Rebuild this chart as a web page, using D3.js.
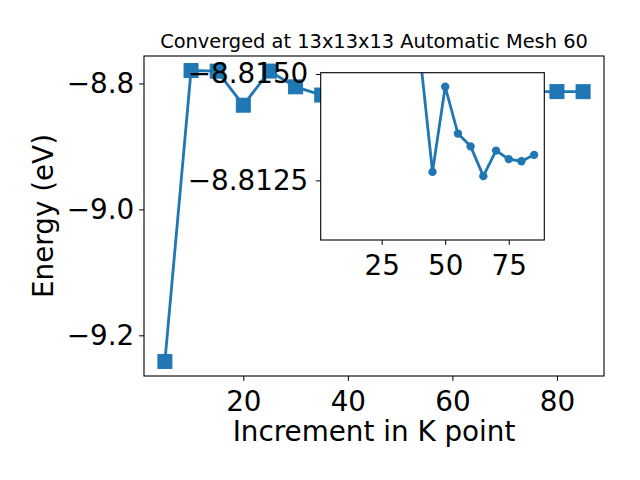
<!DOCTYPE html>
<html>
<head>
<meta charset="utf-8">
<script type="text/javascript" src="https://d3js.org/d3.v7.min.js"></script>
<style>
  body { margin: 0; background: #fff; }
  svg text { font-family: "DejaVu Sans", sans-serif; fill: #000; }
</style>
</head>
<body>
<div id="kconv"></div>
<script type="text/javascript">
  // k-point increment vs total energy
  const kPoints = [5, 10, 15, 20, 25, 30, 35, 40, 45, 50, 55, 60, 65, 70, 75, 80, 85];
  const energies = [-9.2415, -8.7795, -8.7805, -8.8345, -8.7803, -8.8054, -8.8184, -8.8155,
                    -8.8127, -8.8147, -8.8136, -8.8133, -8.8126, -8.8132, -8.8130, -8.81295, -8.8131];
  const xTicks = [20, 40, 60, 80];
  const yTicks = [-8.8, -9.0, -9.2];
  // inset: zoom on the converged part, from k = 40 on
  const insetFrom = 40;
  const insetXTicks = [25, 50, 75];
  const insetYTicks = [-8.8150, -8.8125];
  const insetYLimits = [-8.81503, -8.8111];   // inverted in the inset (smallest at top)
  const titleText = "Converged at 13x13x13 Automatic Mesh 60";

  function gen_kconv(){
    const w = 640, h = 480;
    const color = "#1f77b4";
    const fs = 27.8;
    const minus = s => s.replace("-", "\u2212");

    const svg = d3.select("#kconv")
      .append("svg")
        .attr("width", w)
        .attr("height", h)

    const pts = kPoints.map((k, i) => ({k: k, e: energies[i]}));
    const insetPts = pts.filter(d => d.k >= insetFrom);

    // ---- main axes ----
    const m = {left: 144, right: 604, top: 56, bottom: 376};
    const xPad = (d3.max(kPoints) - d3.min(kPoints)) * 0.05;
    const x = d3.scaleLinear()
      .domain([d3.min(kPoints) - xPad, d3.max(kPoints) + xPad])
      .range([m.left, m.right]);
    const ePad = (d3.max(energies) - d3.min(energies)) * 0.05;
    const y = d3.scaleLinear()
      .domain([d3.min(energies) - ePad, d3.max(energies) + ePad])
      .range([m.bottom, m.top]);

    const main = svg.append("g");

    main.append("g")
        .attr("transform", `translate(0,${m.bottom})`)
        .call(d3.axisBottom(x).tickValues(xTicks).tickSize(4.9).tickPadding(10.6).tickSizeOuter(0))
        .call(g => g.select(".domain").remove())
        .call(g => g.selectAll("text").attr("font-size", fs + "px").attr("font-family", "DejaVu Sans"));

    main.append("g")
        .attr("transform", `translate(${m.left},0)`)
        .call(d3.axisLeft(y).tickValues(yTicks).tickSize(4.9).tickPadding(4.9).tickSizeOuter(0)
          .tickFormat(d => minus(d3.format(".1f")(d))))
        .call(g => g.select(".domain").remove())
        .call(g => g.selectAll("text").attr("font-size", fs + "px").attr("font-family", "DejaVu Sans"));

    const line = d3.line().x(d => x(d.k)).y(d => y(d.e));

    main.append("path")
      .datum(pts)
      .attr("fill", "none")
      .attr("stroke", color)
      .attr("stroke-width", 2.8)
      .attr("d", line);

    main.selectAll("rect.mk")
      .data(pts)
      .join("rect")
        .attr("class", "mk")
        .attr("x", d => x(d.k) - 7)
        .attr("y", d => y(d.e) - 7)
        .attr("width", 14)
        .attr("height", 14)
        .attr("fill", color)
        .attr("stroke", color)
        .attr("stroke-width", 1);

    main.append("rect")
      .attr("x", m.left).attr("y", m.top)
      .attr("width", m.right - m.left).attr("height", m.bottom - m.top)
      .attr("fill", "none").attr("stroke", "#000").attr("stroke-width", 1.1);

    svg.append("text")
      .attr("x", (m.left + m.right) / 2)
      .attr("y", 48)
      .attr("text-anchor", "middle")
      .attr("font-size", "19.4px")
      .text(titleText);

    svg.append("text")
      .attr("x", (m.left + m.right) / 2)
      .attr("y", 441)
      .attr("text-anchor", "middle")
      .attr("font-size", fs + "px")
      .text("Increment in K point");

    svg.append("text")
      .attr("transform", `translate(53,${(m.top + m.bottom) / 2}) rotate(-90)`)
      .attr("text-anchor", "middle")
      .attr("font-size", fs + "px")
      .text("Energy (eV)");

    // ---- inset axes ----
    const n = {left: 320.7, right: 544.3, top: 72.7, bottom: 240};
    const xi = d3.scaleLinear().domain(x.domain()).range([n.left, n.right]);
    const yi = d3.scaleLinear().domain(insetYLimits).range([n.top, n.bottom]);

    const inset = svg.append("g");

    inset.append("rect")
      .attr("x", n.left).attr("y", n.top)
      .attr("width", n.right - n.left).attr("height", n.bottom - n.top)
      .attr("fill", "#fff");

    svg.append("defs").append("clipPath")
        .attr("id", "insetClip")
      .append("rect")
        .attr("x", n.left).attr("y", n.top)
        .attr("width", n.right - n.left).attr("height", n.bottom - n.top);

    const lineI = d3.line().x(d => xi(d.k)).y(d => yi(d.e));
    const plotI = inset.append("g").attr("clip-path", "url(#insetClip)");

    plotI.append("path")
      .datum(insetPts)
      .attr("fill", "none")
      .attr("stroke", color)
      .attr("stroke-width", 2.8)
      .attr("d", lineI);

    plotI.selectAll("circle")
      .data(insetPts)
      .join("circle")
        .attr("cx", d => xi(d.k))
        .attr("cy", d => yi(d.e))
        .attr("r", 4.2)
        .attr("fill", color);

    inset.append("g")
        .attr("transform", `translate(0,${n.bottom})`)
        .call(d3.axisBottom(xi).tickValues(insetXTicks).tickSize(4.9).tickPadding(10.6).tickSizeOuter(0))
        .call(g => g.select(".domain").remove())
        .call(g => g.selectAll("text").attr("font-size", fs + "px").attr("font-family", "DejaVu Sans"));

    inset.append("g")
        .attr("transform", `translate(${n.left},0)`)
        .call(d3.axisLeft(yi).tickValues(insetYTicks).tickSize(4.9).tickPadding(7.5).tickSizeOuter(0)
          .tickFormat(d => minus(d3.format(".4f")(d))))
        .call(g => g.select(".domain").remove())
        .call(g => g.selectAll("text").attr("font-size", fs + "px").attr("font-family", "DejaVu Sans"));

    inset.append("rect")
      .attr("x", n.left).attr("y", n.top)
      .attr("width", n.right - n.left).attr("height", n.bottom - n.top)
      .attr("fill", "none").attr("stroke", "#000").attr("stroke-width", 1.1);
  }

  gen_kconv()
</script>
</body>
</html>
